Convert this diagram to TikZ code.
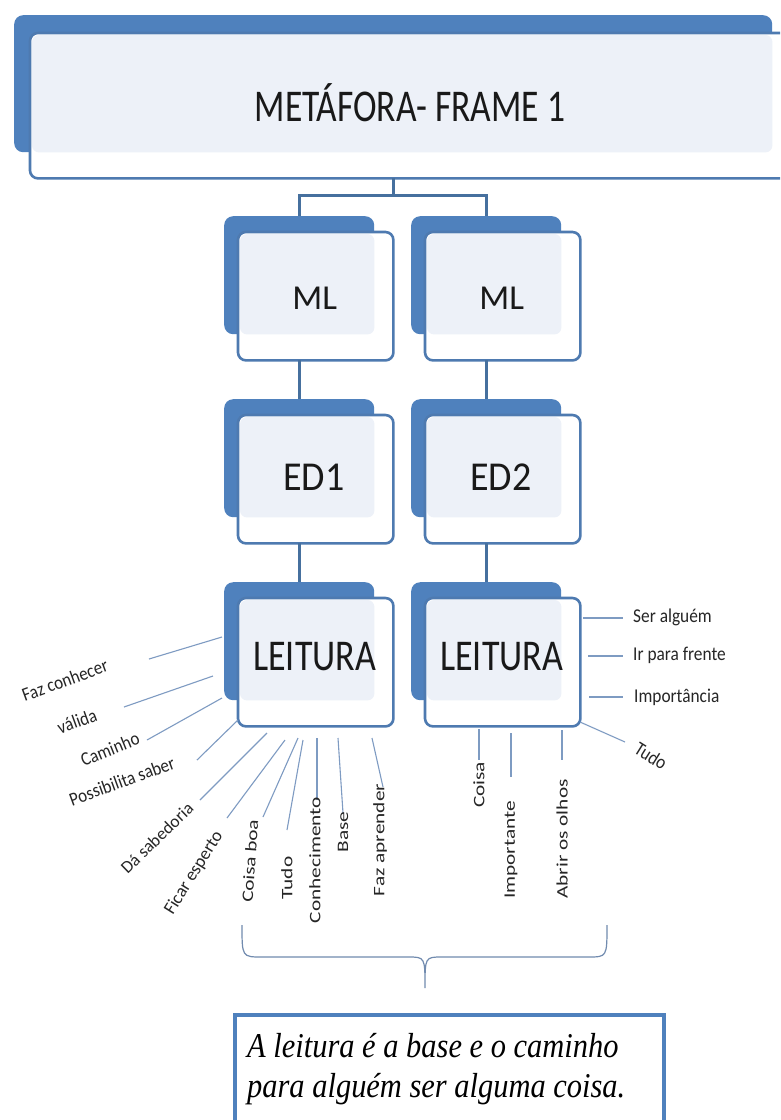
\documentclass[tikz,border=0pt]{standalone}
\usepackage{fontspec}
\usepackage{graphicx}
\setmainfont{Carlito}
\newfontfamily\serifit{Liberation Serif}
\usetikzlibrary{calc}
\definecolor{bback}{HTML}{4F81BD}
\definecolor{bline}{HTML}{4E7AB0}
\definecolor{blight}{HTML}{EDF1F8}
\definecolor{bconn}{HTML}{46709E}
\definecolor{blbl}{HTML}{7E9BC2}
\newcommand\mkbox[3]{%
 \node[backp, minimum width=150pt, minimum height=118pt] (#1b) at (#2,#3) {};
 \node[frontp, minimum width=155pt, minimum height=128pt] (#1f) at ($(#1b.north west)+(14,16)$) {};
 \fill[lightp] ($(#1f.north west)+(2,2)$) rectangle (#1b.south east);
 \draw[frontl] (#1f.north west) rectangle (#1f.south east);
}
\begin{document}
\begin{tikzpicture}[x=1pt,y=-1pt,
 backp/.style={fill=bback, rounded corners=9pt, inner sep=0pt, anchor=north west},
 frontp/.style={fill=white, rounded corners=8pt, inner sep=0pt, anchor=north west},
 frontl/.style={draw=bline, line width=2.6pt, rounded corners=8pt},
 lightp/.style={fill=blight, rounded corners=7pt},
 conn/.style={draw=bconn, line width=2.8pt},
 lbl/.style={draw=blbl, line width=1.1pt},
 lab/.style={font=\fontsize{16}{16}\selectfont, inner sep=0pt, text=black!85},
 alab/.style={font=\fontsize{17}{17}\selectfont, inner sep=0pt, text=black!85},
 rlab/.style={font=\fontsize{17}{17}\selectfont, inner sep=0pt, text=black!85, anchor=west},
 big/.style={inner sep=0pt, text=black!90},
 ]
\useasboundingbox (0,0) rectangle (780,1120);
\clip (0,0) rectangle (780,1120);
\fill[white] (0,0) rectangle (780,1120);

% top box
\node[backp, minimum width=758pt, minimum height=137pt] (topb) at (14,15) {};
\node[frontp, minimum width=775pt, minimum height=145pt] (topf) at (30,33) {};
\fill[lightp] ($(topf.north west)+(2,2)$) rectangle (topb.south east);
\draw[frontl] (topf.north west) rectangle (topf.south east);
\node[big, font=\fontsize{35.5}{35.5}\selectfont] (topt) at (410,103) {\scalebox{1}[1.28]{METÁFORA- FRAME 1}};

% boxes
\mkbox{mla}{224}{216}
\mkbox{mlb}{411}{216}
\mkbox{eda}{224}{399}
\mkbox{edb}{411}{399}
\mkbox{lea}{224}{582}
\mkbox{leb}{411}{582}

\node[big, font=\fontsize{35}{35}\selectfont] (mlat) at ($(mlaf.center)+(-1,2)$) {ML};
\node[big, font=\fontsize{35}{35}\selectfont] (mlbt) at ($(mlbf.center)+(-1,2)$) {ML};
\node[big, font=\fontsize{38}{38}\selectfont] (edat) at ($(edaf.center)+(-2,-2)$) {\scalebox{1}[1.08]{ED1}};
\node[big, font=\fontsize{38}{38}\selectfont] (edbt) at ($(edbf.center)+(-2,-2)$) {\scalebox{1}[1.08]{ED2}};
\node[big, font=\fontsize{36}{36}\selectfont] (leat) at ($(leaf.center)+(-1,-6)$) {\scalebox{1}[1.22]{LEITURA}};
\node[big, font=\fontsize{36}{36}\selectfont] (lebt) at ($(lebf.center)+(-1,-6)$) {\scalebox{1}[1.22]{LEITURA}};

% connectors
\draw[conn] (topb.south |- topf.south) -- ++(0,17) coordinate (tj) -| (mlab.north);
\draw[conn] (tj) -| (mlbb.north);
\draw[conn] (mlab.south |- mlaf.south) -- (edab.north);
\draw[conn] (mlbb.south |- mlbf.south) -- (edbb.north);
\draw[conn] (edab.south |- edaf.south) -- (leab.north);
\draw[conn] (edbb.south |- edbf.south) -- (lebb.north);

% left labels
\draw[lbl] (222,637) coordinate (a1) -- (149,659) coordinate (b1);
\draw[lbl] (213,676) coordinate (a2) -- (124,707) coordinate (b2);
\draw[lbl] (222,698) coordinate (a3) -- (147,740) coordinate (b3);
\draw[lbl] (238,720) coordinate (a4) -- (197,760) coordinate (b4);
\draw[lbl] (267,733) coordinate (a5) -- (200,800) coordinate (b5);
\draw[lbl] (285,740) coordinate (a6) -- (227,818) coordinate (b6);
\draw[lbl] (298,738) coordinate (a7) -- (263,817) coordinate (b7);
\draw[lbl] (303,740) coordinate (a8) -- (287,830) coordinate (b8);
\draw[lbl] (317,738) coordinate (a9) -- (317,800) coordinate (b9);
\draw[lbl] (338,738) coordinate (a10) -- (343,813) coordinate (b10);
\draw[lbl] (372,738) coordinate (a11) -- (383,787) coordinate (b11);

\node[alab, rotate=20] (t1) at (65,680) {\scalebox{1}[1.12]{Faz conhecer}};
\node[alab, rotate=20] (t2) at (77,721) {\scalebox{1}[1.12]{válida}};
\node[alab, rotate=22] (t3) at (110,749) {\scalebox{1}[1.12]{Caminho}};
\node[alab, rotate=20] (t4) at (122,781) {\scalebox{1}[1.12]{Possibilita saber}};
\node[lab, font=\fontsize{17.5}{17.5}\selectfont, rotate=44] (t5) at (157,838) {Dá sabedoria};
\node[lab, font=\fontsize{18}{18}\selectfont, rotate=58] (t6) at (194,873) {Ficar esperto};
\node[lab, rotate=86] (t7) at (250,861) {\scalebox{1.33}[1]{Coisa boa}};
\node[lab, rotate=90] (t8) at (287,878) {\scalebox{1.33}[1]{Tudo}};
\node[lab, rotate=90] (t9) at (315,860) {\scalebox{1.33}[1]{Conhecimento}};
\node[lab, rotate=90] (t10) at (343,832) {\scalebox{1.33}[1]{Base}};
\node[lab, rotate=90] (t11) at (380,840) {\scalebox{1.33}[1]{Faz aprender}};

% right labels
\draw[lbl] (583,618) coordinate (c1) -- (623,618) coordinate (d1);
\draw[lbl] (588,656) coordinate (c2) -- (623,656) coordinate (d2);
\draw[lbl] (589,697) coordinate (c3) -- (623,697) coordinate (d3);
\draw[lbl] (580,722) coordinate (c4) -- (625,742) coordinate (d4);
\draw[lbl] (479,729) coordinate (c5) -- (479,760) coordinate (d5);
\draw[lbl] (511,733) coordinate (c6) -- (511,777) coordinate (d6);
\draw[lbl] (562,730) coordinate (c7) -- (562,760) coordinate (d7);

\node[rlab] (r1) at (633,617) {\scalebox{1.02}[1.15]{Ser alguém}};
\node[rlab] (r2) at (633,655) {\scalebox{1.02}[1.15]{Ir para frente}};
\node[rlab] (r3) at (634,697) {\scalebox{1.02}[1.15]{Importância}};
\node[lab, font=\fontsize{17}{17}\selectfont, rotate=-32] (r4) at (651,756) {\scalebox{1}[1.15]{Tudo}};
\node[lab, rotate=90] (r5) at (479,785) {\scalebox{1.33}[1]{Coisa}};
\node[lab, rotate=90] (r6) at (511,850) {\scalebox{1.33}[1]{Importante}};
\node[lab, rotate=90] (r7) at (562,839) {\scalebox{1.33}[1]{Abrir os olhos}};

% brace
\draw[draw=blbl!90!black, line width=1.2pt] (242,925) coordinate (bl) .. controls (242,957) .. (262,957) -- (408,957) .. controls (425,957) .. (425,988) coordinate (btip) .. controls (425,957) .. (442,957) -- (588,957) .. controls (607,957) .. (607,925) coordinate (br);

% conclusion box
\node[draw=bback, line width=4pt, fill=white, anchor=north west, minimum width=429pt, minimum height=140pt, inner sep=0pt] (concl) at (233,1013) {};
\node[anchor=base west, inner sep=0pt, font=\serifit\itshape\fontsize{29}{29}\selectfont] (cl1) at (247,1057) {\scalebox{1.05}[1.2]{A leitura é a base e o caminho}};
\node[anchor=base west, inner sep=0pt, font=\serifit\itshape\fontsize{29}{29}\selectfont] (cl2) at (247,1097) {\scalebox{1.05}[1.2]{para alguém ser alguma coisa.}};
\end{tikzpicture}
\end{document}
